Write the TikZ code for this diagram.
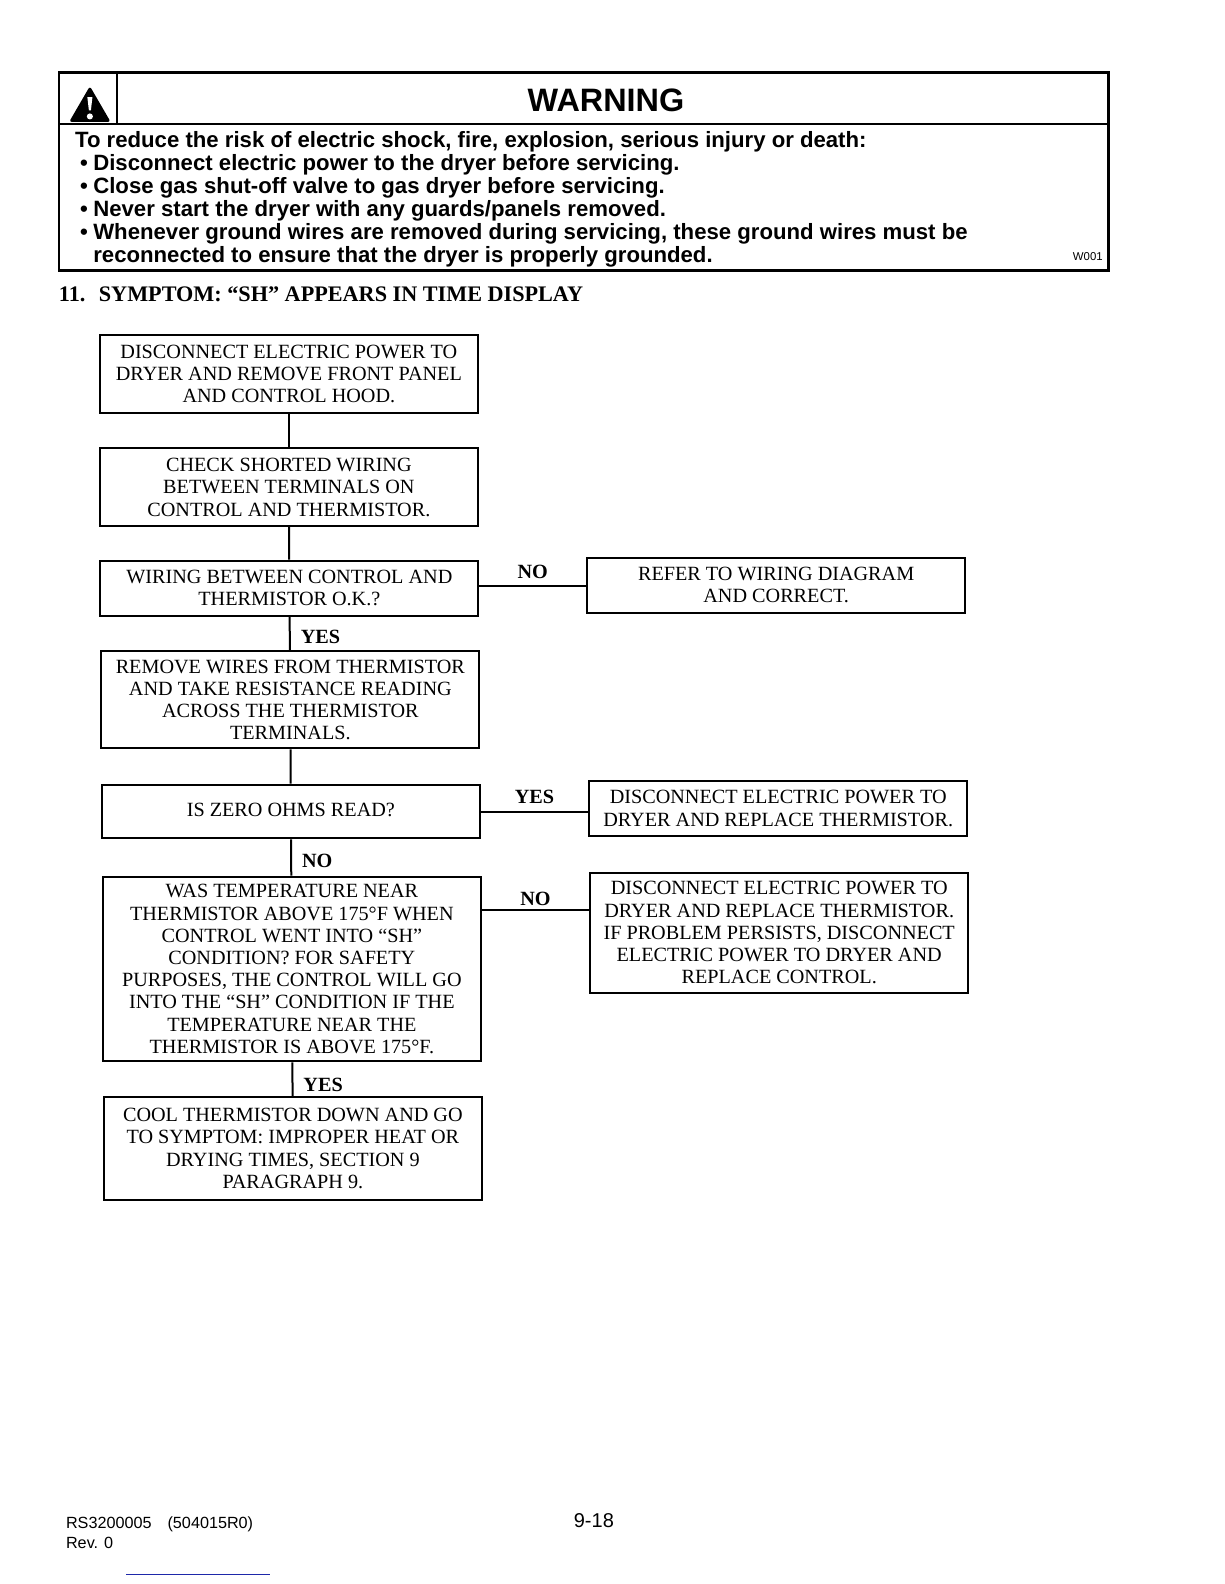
\documentclass[tikz,border=0pt]{standalone}
\usepackage{fontspec}
\setmainfont{Liberation Serif}
\newfontfamily\warnfont{Liberation Sans}
\usepackage{xcolor}
\usetikzlibrary{shapes,arrows}
\definecolor{scanblue}{RGB}{30,40,170}
\newcommand{\warnitem}{\makebox[9.1pt][l]{\hspace{2.5pt}\textbullet}}
\tikzstyle{block} = [rectangle, draw, line width=1pt, text width=189pt, text badly centered, inner sep=0pt, font=\fontsize{10.1}{11.1}\selectfont]
\tikzstyle{line} = [draw, line width=1pt]
\tikzstyle{answer} = [font=\bfseries\fontsize{10.1}{11.1}\selectfont, inner sep=5pt, yshift=-1.5pt]
\tikzstyle{warnline} = [draw, line width=1.2pt]
\tikzstyle{warntext} = [align=left, inner sep=0pt, anchor=north west, font=\warnfont\bfseries\fontsize{11.08}{11.5}\selectfont]
\tikzstyle{footer} = [inner sep=0pt, anchor=west, font=\warnfont\fontsize{8.1}{10}\selectfont]
\begin{document}
\begin{tikzpicture}[x=0.505pt, y=0.505pt, auto]
    \useasboundingbox (0,0) rectangle (1211.9,1568.3);
    % Warning box
    \node [warnline, rectangle, minimum width=524.5pt, minimum height=99pt, inner sep=0pt] (warnbox) at (578,1398.3) {};
    \coordinate (headleft) at (58,1445.3);
    \coordinate (headright) at (1099,1445.3);
    \coordinate (signtop) at (116,1497.3);
    \coordinate (signbottom) at (116,1445.3);
    \draw [line width=1pt] (headleft) -- (headright);
    \draw [line width=1pt] (signtop) -- (signbottom);
    \fill [line width=1.5pt, draw, line join=round] (89,1480) -- (71,1449) -- (107,1449) -- cycle;
    \fill [white] (86.5,1472) -- (91.5,1472) -- (90,1459) -- (88,1459) -- cycle;
    \fill [white] (89,1453) circle (3);
    \node [inner sep=0pt, font=\warnfont\bfseries\fontsize{16.2}{18}\selectfont] (warnhead) at (600,1469.3) {WARNING};
    \node [warntext] (warnbody) at (74,1438.6) {To reduce the risk of electric shock, fire, explosion, serious injury or death:\\
    \warnitem Disconnect electric power to the dryer before servicing.\\
    \warnitem Close gas shut-off valve to gas dryer before servicing.\\
    \warnitem Never start the dryer with any guards/panels removed.\\
    \warnitem Whenever ground wires are removed during servicing, these ground wires must be\\
    \hspace*{9.1pt}reconnected to ensure that the dryer is properly grounded.};
    \node [inner sep=0pt, font=\warnfont\fontsize{5.7}{6}\selectfont] (warncode) at (1077,1314.3) {W001};
    \node [inner sep=0pt, anchor=west, font=\bfseries\fontsize{11.1}{12}\selectfont] (title) at (58,1277.3) {11.\hspace{3pt} SYMPTOM: “SH” APPEARS IN TIME DISPLAY};

    % Place nodes
    \node [block, minimum height=38.9pt] (disconnect) at (286,1197.8) {DISCONNECT ELECTRIC POWER TO\\DRYER AND REMOVE FRONT PANEL\\AND CONTROL HOOD.};
    \node [block, minimum height=38.9pt, below of=disconnect, node distance=56.56pt] (shorted) {CHECK SHORTED WIRING\\BETWEEN TERMINALS ON\\CONTROL AND THERMISTOR.};
    \node [block, minimum height=27.8pt, below of=shorted, node distance=50.5pt, xshift=0.25pt] (wiring) {WIRING BETWEEN CONTROL AND\\THERMISTOR O.K.?};
    \node [block, minimum height=48.5pt, below of=wiring, node distance=55.8pt, xshift=0.5pt] (remove) {REMOVE WIRES FROM THERMISTOR\\AND TAKE RESISTANCE READING\\ACROSS THE THERMISTOR\\TERMINALS.};
    \node [block, minimum height=26.8pt, below of=remove, node distance=55.8pt, xshift=0.25pt] (zero) {\raisebox{2pt}{IS ZERO OHMS READ?}};
    \node [block, minimum height=92.4pt, below of=zero, node distance=78.78pt, xshift=0.5pt] (temp) {WAS TEMPERATURE NEAR\\THERMISTOR ABOVE 175°F WHEN\\CONTROL WENT INTO “SH”\\CONDITION? FOR SAFETY\\PURPOSES, THE CONTROL WILL GO\\INTO THE “SH” CONDITION IF THE\\TEMPERATURE NEAR THE\\THERMISTOR IS ABOVE 175°F.};
    \node [block, minimum height=51.5pt, below of=temp, node distance=89.64pt, xshift=0.5pt] (cool) {COOL THERMISTOR DOWN AND GO\\TO SYMPTOM: IMPROPER HEAT OR\\DRYING TIMES, SECTION 9\\PARAGRAPH 9.};
    \node [block, minimum height=27.8pt, right of=wiring, node distance=243.4pt, yshift=1.5pt] (refer) {REFER TO WIRING DIAGRAM\\AND CORRECT.};
    \node [block, minimum height=27.8pt, right of=zero, node distance=243.66pt, yshift=1.5pt] (replace) {DISCONNECT ELECTRIC POWER TO\\DRYER AND REPLACE THERMISTOR.};
    \node [block, minimum height=60.1pt, right of=temp, node distance=243.66pt, yshift=18.2pt] (persists) {DISCONNECT ELECTRIC POWER TO\\DRYER AND REPLACE THERMISTOR.\\IF PROBLEM PERSISTS, DISCONNECT\\ELECTRIC POWER TO DRYER AND\\REPLACE CONTROL.};

    % Draw edges
    \path [line] (disconnect) -- (shorted);
    \path [line] (shorted) -- (wiring);
    \path [line] (wiring) -- node [answer] {YES} (remove);
    \path [line] (remove) -- (zero);
    \path [line] (zero) -- node [answer] {NO} (temp);
    \path [line] (temp) -- node [answer, yshift=-1.5pt] {YES} (cool);
    \path [line] ([yshift=1pt]wiring.east) -- node [answer] {NO} ([yshift=1pt]wiring.east -| refer.west);
    \path [line] (zero.east) -- node [answer] {YES} (zero.east -| replace.west);
    \path [line] ([yshift=11.4pt]persists.west -| temp.east) -- node [answer, yshift=-2pt] {NO} ([yshift=11.4pt]persists.west);

    % Footer
    \node [footer] (partno) at (65,58.8) {RS3200005\hspace{8pt}(504015R0)};
    \node [footer] (rev) at (65,40.3) {Rev. 0};
    \node [inner sep=0pt, font=\warnfont\fontsize{10}{12}\selectfont] (page) at (588,62.3) {9-18};
    \coordinate (ruleleft) at (125,9.3);
    \coordinate (ruleright) at (267,9.3);
    \draw [scanblue, line width=0.5pt] (ruleleft) -- (ruleright);
\end{tikzpicture}
\end{document}
